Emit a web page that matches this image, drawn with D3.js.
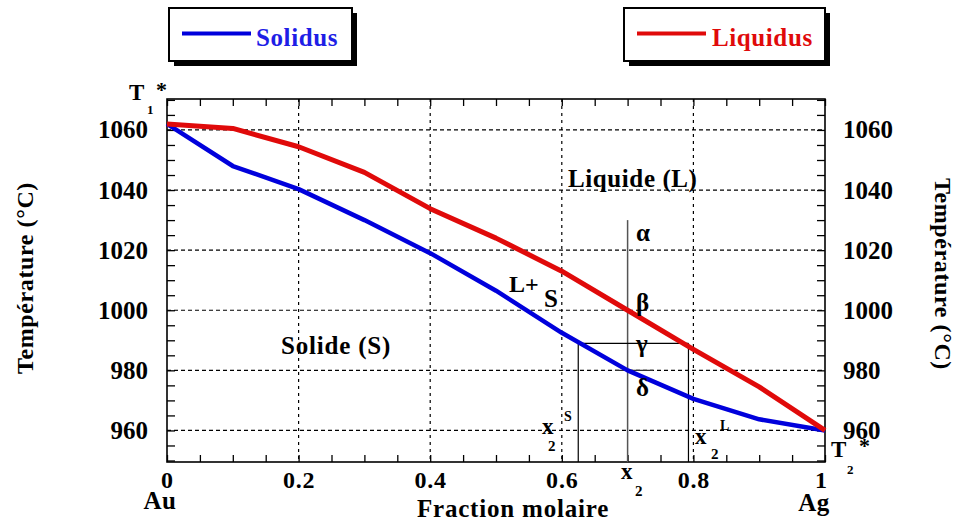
<!DOCTYPE html>
<html><head><meta charset="utf-8">
<script src="https://cdn.jsdelivr.net/npm/d3@7"></script>
<style>
html,body{margin:0;padding:0;background:#fff;}
svg text{font-family:"Liberation Serif","Times New Roman",serif;font-weight:bold;}
</style></head>
<body>
<svg id="chart" width="957" height="522"></svg>
<script>
// ---- data ----
const fraction = [0, 0.1, 0.2, 0.3, 0.4, 0.5, 0.6, 0.7, 0.8, 0.9, 1.0];
const solidus  = [1062, 1048, 1040.3, 1030, 1019, 1006.5, 992.5, 980, 970.5, 963.7, 960];
const liquidus = [1062, 1060.5, 1054.4, 1045.9, 1033.8, 1024, 1013, 1000, 987, 974.5, 960];
const xMajorTicks = [0, 0.2, 0.4, 0.6, 0.8, 1];
const xTickLabels = ["0", "0.2", "0.4", "0.6", "0.8", "1"];
const yMajorTicks = [960, 980, 1000, 1020, 1040, 1060];
const seriesNames = ["Solidus", "Liquidus"];
// construction (tie-line) values
const x2 = 0.7, x2S = 0.625, x2L = 0.7925;
const tTie = 989, tTop = 1030, tBeta = 1000, tDelta = 980;
const betaSpan = [0.681, 0.705], deltaSpan = [0.681, 0.739];

const svg = d3.select("#chart");
const L = 167, R = 825, T = 99, B = 462;
const x = d3.scaleLinear().domain([0, 1]).range([L, R]);
const y = d3.scaleLinear().domain([949.5, 1070.3]).range([B, T]);
const blue = "#0000dc", red = "#e00a0a", textBlue = "#1e1ee6";

// grid
const grid = svg.append("g").attr("stroke", "#000").attr("stroke-width", 1.2).attr("stroke-dasharray", "4,3");
grid.selectAll(".gy").data(yMajorTicks).join("line")
  .attr("x1", L).attr("x2", R).attr("y1", d => y(d)).attr("y2", d => y(d));
grid.selectAll(".gx").data(xMajorTicks.slice(1, -1)).join("line")
  .attr("y1", T).attr("y2", B).attr("x1", d => x(d)).attr("x2", d => x(d)).attr("stroke-dasharray", "3,4");

// axes ticks
const minorX = d3.range(0, 1.0001, 0.05);
const minorY = d3.range(950, 1070.1, 5);
function styleAxis(g) { g.select(".domain").remove(); g.selectAll("line").attr("stroke", "#000").attr("stroke-width", 1.3); }
svg.append("g").attr("transform", `translate(0,${B})`)
  .call(d3.axisBottom(x).tickValues(minorX).tickSize(-7).tickFormat("")).call(styleAxis);
svg.append("g").attr("transform", `translate(0,${T})`)
  .call(d3.axisTop(x).tickValues(minorX).tickSize(-7).tickFormat("")).call(styleAxis);
svg.append("g").attr("transform", `translate(${L},0)`)
  .call(d3.axisLeft(y).tickValues(minorY).tickSize(-8).tickFormat("")).call(styleAxis);
svg.append("g").attr("transform", `translate(${R},0)`)
  .call(d3.axisRight(y).tickValues(minorY).tickSize(-8).tickFormat("")).call(styleAxis);

// tick labels
const fmtY = d3.format("d");
const bx = svg.append("g").attr("transform", `translate(0,${B})`)
  .call(d3.axisBottom(x).tickValues(xMajorTicks).tickSize(0).tickPadding(9).tickFormat((d, i) => xTickLabels[i]));
bx.select(".domain").remove();
bx.selectAll("text").attr("font-size", 24).attr("letter-spacing", 0.8).attr("fill", "#000").attr("font-family", null);
bx.selectAll(".tick").filter(d => d === 1).select("text").attr("dx", -4);
const ly = svg.append("g").attr("transform", `translate(${L},0)`)
  .call(d3.axisLeft(y).tickValues(yMajorTicks).tickSize(0).tickPadding(19).tickFormat(fmtY));
ly.select(".domain").remove();
ly.selectAll("text").attr("font-size", 25).attr("fill", "#000").attr("font-family", null);
const ry = svg.append("g").attr("transform", `translate(${R},0)`)
  .call(d3.axisRight(y).tickValues(yMajorTicks).tickSize(0).tickPadding(18).tickFormat(fmtY));
ry.select(".domain").remove();
ry.selectAll("text").attr("font-size", 25).attr("fill", "#000").attr("font-family", null);

// frame
svg.append("rect").attr("x", L).attr("y", T).attr("width", R - L).attr("height", B - T)
  .attr("fill", "none").attr("stroke", "#000").attr("stroke-width", 1.6);

// construction lines
const cons = svg.append("g");
cons.append("line").attr("x1", x(x2)).attr("x2", x(x2)).attr("y1", y(tTop)).attr("y2", B)
  .attr("stroke", "#555").attr("stroke-width", 1.5);
cons.append("line").attr("x1", x(x2S)).attr("x2", x(x2L)).attr("y1", y(tTie)).attr("y2", y(tTie))
  .attr("stroke", "#000").attr("stroke-width", 1.2);
[x2S, x2L].forEach(v => cons.append("line").attr("x1", x(v)).attr("x2", x(v)).attr("y1", y(tTie)).attr("y2", B)
  .attr("stroke", "#000").attr("stroke-width", 1.2));
cons.append("line").attr("x1", x(betaSpan[0])).attr("x2", x(betaSpan[1])).attr("y1", y(tBeta)).attr("y2", y(tBeta))
  .attr("stroke", "#333").attr("stroke-width", 1.2);
cons.append("line").attr("x1", x(deltaSpan[0])).attr("x2", x(deltaSpan[1])).attr("y1", y(tDelta)).attr("y2", y(tDelta))
  .attr("stroke", "#333").attr("stroke-width", 1.2);

// curves
const line = d3.line().x((d, i) => x(fraction[i])).y(d => y(d));
svg.append("path").datum(solidus).attr("d", line).attr("fill", "none").attr("stroke", blue)
  .attr("stroke-width", 4.5).attr("stroke-linejoin", "round");
svg.append("path").datum(liquidus).attr("d", line).attr("fill", "none").attr("stroke", red)
  .attr("stroke-width", 5).attr("stroke-linejoin", "round");

// legends
function legend(x0, y0, w, h, color, tcolor, name, lx1, lx2, tx) {
  svg.append("rect").attr("x", x0 + 5).attr("y", y0 + 5).attr("width", w).attr("height", h).attr("fill", "#000");
  svg.append("rect").attr("x", x0).attr("y", y0).attr("width", w).attr("height", h)
    .attr("fill", "#fff").attr("stroke", "#000").attr("stroke-width", 2);
  svg.append("line").attr("x1", lx1).attr("x2", lx2).attr("y1", 33.5).attr("y2", 33.5)
    .attr("stroke", color).attr("stroke-width", 4);
  svg.append("text").attr("x", tx).attr("y", 46).attr("font-size", 25).attr("fill", tcolor)
    .attr("letter-spacing", 0.6).text(name);
}
legend(169, 8, 183, 53, blue, textBlue, seriesNames[0], 182, 251, 256);
legend(624, 8, 201, 53, red, red, seriesNames[1], 637, 706, 712);

// text annotations
function txt(tx, ty, s, size, anchor, ls) {
  return svg.append("text").attr("x", tx).attr("y", ty).attr("font-size", size)
    .attr("text-anchor", anchor || "start").attr("letter-spacing", ls || 0).attr("fill", "#000").text(s);
}
txt(568, 187, "Liquide (L)", 25, "start", 0.6);
txt(281, 354, "Solide (S)", 25, "start", 0.8);
txt(509, 292, "L+", 24);
txt(544, 307, "S", 25);
txt(636, 241, "α", 25);
txt(636, 311, "β", 25);
txt(636, 352, "γ", 25);
txt(636, 396, "δ", 25);
// x2^S
txt(542, 434, "x", 23); txt(548, 451, "2", 15); txt(564, 421, "S", 14);
// x2^L
txt(695, 444, "x", 23); txt(711, 459, "2", 15); txt(720, 430, "L", 14);
// x2 on axis
txt(621, 479, "x", 23); txt(635, 496, "2", 15);
// T1*
txt(129, 100, "T", 23); txt(147, 114, "1", 13); txt(156, 97, "*", 22);
// T2*
txt(831, 457, "T", 23); txt(847, 474, "2", 13); txt(859, 453, "*", 22);
// Au / Ag
txt(160, 509, "Au", 25, "middle", 0.5);
txt(814, 511, "Ag", 25, "middle", 0.5);
// axis titles
txt(513, 517, "Fraction molaire", 25, "middle", 0.8);
svg.append("text").attr("transform", "translate(33,278) rotate(-90)").attr("text-anchor", "middle")
  .attr("font-size", 24).attr("letter-spacing", 0.6).attr("fill", "#000").text("Température (°C)");
svg.append("text").attr("transform", "translate(935,274) rotate(90)").attr("text-anchor", "middle")
  .attr("font-size", 24).attr("letter-spacing", 0.6).attr("fill", "#000").text("Température (°C)");
</script>
</body></html>
